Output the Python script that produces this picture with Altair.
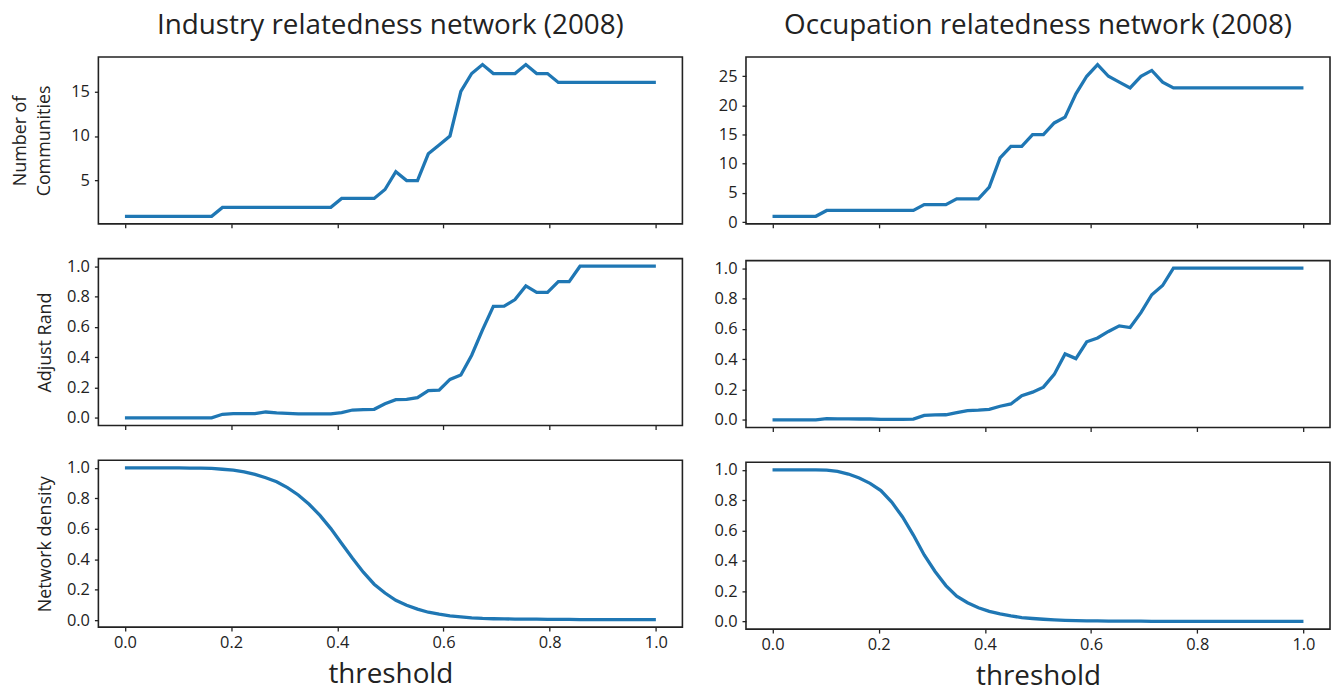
import altair as alt
import pandas as pd

threshold = [0.0, 0.0204, 0.0408, 0.0612, 0.0816, 0.1020, 0.1224, 0.1429, 0.1633, 0.1837,
             0.2041, 0.2245, 0.2449, 0.2653, 0.2857, 0.3061, 0.3265, 0.3469, 0.3673, 0.3878,
             0.4082, 0.4286, 0.4490, 0.4694, 0.4898, 0.5102, 0.5306, 0.5510, 0.5714, 0.5918,
             0.6122, 0.6327, 0.6531, 0.6735, 0.6939, 0.7143, 0.7347, 0.7551, 0.7755, 0.7959,
             0.8163, 0.8367, 0.8571, 0.8776, 0.8980, 0.9184, 0.9388, 0.9592, 0.9796, 1.0]

ind_communities = [1, 1, 1, 1, 1, 1, 1, 1, 1,
                   2, 2, 2, 2, 2, 2, 2, 2, 2, 2, 2,
                   3, 3, 3, 3, 4, 6, 5, 5, 8, 9, 10, 15, 17, 18, 17, 17, 17, 18, 17, 17,
                   16, 16, 16, 16, 16, 16, 16, 16, 16, 16]

ind_rand = [0.0, 0.0, 0.0, 0.0, 0.0, 0.0, 0.0, 0.0, 0.0,
            0.024, 0.028, 0.028, 0.028, 0.039, 0.033, 0.030, 0.026, 0.026, 0.026, 0.026,
            0.035, 0.052, 0.054, 0.057, 0.093, 0.120, 0.122, 0.133, 0.180, 0.183,
            0.254, 0.283, 0.413, 0.580, 0.735, 0.737, 0.780, 0.870, 0.828, 0.828,
            0.898, 0.898, 1.0, 1.0, 1.0, 1.0, 1.0, 1.0, 1.0, 1.0]

ind_density = [1.0, 1.0, 1.0, 1.0, 1.0, 1.0, 0.999, 0.998, 0.996, 0.991,
               0.985, 0.974, 0.957, 0.935, 0.909, 0.870, 0.822, 0.761, 0.688, 0.601,
               0.503, 0.406, 0.315, 0.236, 0.178, 0.130, 0.098, 0.072, 0.052, 0.039,
               0.028, 0.022, 0.015, 0.011, 0.009, 0.008, 0.007, 0.006, 0.006, 0.005,
               0.005, 0.005, 0.004, 0.004, 0.004, 0.004, 0.004, 0.004, 0.004, 0.004]

occ_communities = [1, 1, 1, 1, 1,
                   2, 2, 2, 2, 2, 2, 2, 2, 2,
                   3, 3, 3, 4, 4, 4,
                   6, 11, 13, 13, 15, 15, 17, 18, 22, 25, 27, 25, 24, 23, 25, 26, 24,
                   23, 23, 23, 23, 23, 23, 23, 23, 23, 23, 23, 23, 23]

occ_rand = [0.0, 0.0, 0.0, 0.0, 0.0,
            0.009, 0.007, 0.007, 0.006, 0.006, 0.004, 0.004, 0.004, 0.005,
            0.030, 0.033, 0.034, 0.048, 0.061, 0.064, 0.070, 0.090, 0.105, 0.160,
            0.183, 0.216, 0.300, 0.435, 0.404, 0.515, 0.540, 0.583, 0.620, 0.609,
            0.707, 0.825, 0.886,
            1.0, 1.0, 1.0, 1.0, 1.0, 1.0, 1.0, 1.0, 1.0, 1.0, 1.0, 1.0, 1.0]

occ_density = [1.0, 1.0, 1.0, 1.0, 1.0, 0.998, 0.990, 0.972, 0.946, 0.911,
               0.863, 0.787, 0.689, 0.570, 0.439, 0.330, 0.237, 0.167, 0.124, 0.091,
               0.067, 0.050, 0.037, 0.026, 0.020, 0.015, 0.011, 0.008, 0.006, 0.005,
               0.004, 0.003, 0.003, 0.002, 0.002,
               0.001, 0.001, 0.001, 0.001, 0.001, 0.001, 0.001, 0.001, 0.001, 0.001,
               0.001, 0.001, 0.001, 0.001, 0.001]

x_ticks = [0.0, 0.2, 0.4, 0.6, 0.8, 1.0]
unit_ticks = [0.0, 0.2, 0.4, 0.6, 0.8, 1.0]

FONT = "Open Sans"
INK = "#222222"
BLUE = "#1f77b4"
W, H = 588, 168


def panel(values, ydomain, yticks, yfmt, ytitle=None, ytitle_pad=12,
          bottom=False, title=None):
    df = pd.DataFrame({"t": threshold, "v": values})
    xaxis_kw = dict(values=x_ticks, format=".1f", labels=bottom, ticks=True,
                    tickSize=4, labelPadding=4, labelFontSize=16.5)
    if bottom:
        xaxis_kw.update(title="threshold", titleFontSize=28, titlePadding=9,
                        titleFontWeight="normal", titleFont=FONT, titleColor=INK)
    else:
        xaxis_kw.update(title=None)
    yaxis_kw = dict(values=yticks, format=yfmt, tickSize=4, labelPadding=5,
                    labelFontSize=16.5)
    if ytitle is not None:
        yaxis_kw.update(title=ytitle, titleFontSize=18, titlePadding=ytitle_pad,
                        titleFontWeight="normal", titleFont=FONT, titleColor=INK,
                        titleLineHeight=25)
    else:
        yaxis_kw.update(title=None)
    props = dict(width=W, height=H)
    if title is not None:
        props["title"] = alt.TitleParams(title, fontSize=28, font=FONT,
                                         fontWeight="normal", color=INK,
                                         anchor="middle", frame="group",
                                         offset=17)
    return alt.Chart(df).mark_line(color=BLUE, strokeWidth=3.3, clip=True).encode(
        x=alt.X("t:Q", scale=alt.Scale(domain=[-0.05, 1.05], nice=False, zero=False),
                axis=alt.Axis(**xaxis_kw)),
        y=alt.Y("v:Q", scale=alt.Scale(domain=ydomain, nice=False, zero=False),
                axis=alt.Axis(**yaxis_kw)),
    ).properties(**props)


left = alt.vconcat(
    panel(ind_communities, [0.15, 18.85], [5, 10, 15], "d",
          ytitle=["Number of", "Communities"], ytitle_pad=17,
          title="Industry relatedness network (2008)"),
    panel(ind_rand, [-0.05, 1.05], unit_ticks, ".1f", ytitle="Adjust Rand", ytitle_pad=12),
    panel(ind_density, [-0.046, 1.05], unit_ticks, ".1f", ytitle="Network density",
          ytitle_pad=12, bottom=True),
    spacing=27,
)

right = alt.vconcat(
    panel(occ_communities, [-0.3, 28.3], [0, 5, 10, 15, 20, 25], "d",
          title="Occupation relatedness network (2008)"),
    panel(occ_rand, [-0.05, 1.05], unit_ticks, ".1f"),
    panel(occ_density, [-0.05, 1.05], unit_ticks, ".1f", bottom=True),
    spacing=27,
)

chart = alt.hconcat(left, right, spacing=29).properties(
    padding={"left": 2, "top": 1, "right": 0, "bottom": 2}
).configure(
    font=FONT,
).configure_view(
    stroke=INK, strokeWidth=1.6,
).configure_axis(
    domain=False, grid=False, tickColor=INK, tickWidth=1.3,
    labelColor=INK, labelFont=FONT,
)

chart.save("out.html", embed_options={"renderer": "svg", "actions": False})
